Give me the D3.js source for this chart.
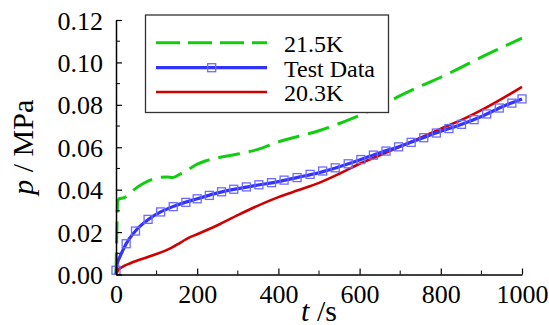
<!DOCTYPE html>
<html>
<head>
<meta charset="utf-8">
<script src="https://cdn.jsdelivr.net/npm/d3@7"></script>
<style>
  html, body { margin: 0; padding: 0; background: #fff; }
  svg text { font-family: "Liberation Serif", "DejaVu Serif", serif; }
</style>
</head>
<body>
<div id="chart"></div>
<script>
// 21.5K curve (green dashed)
const greenT = [0, 2, 4, 8, 20, 35, 55, 80, 105, 125, 140, 160, 180, 200, 220, 250, 300, 350, 400, 450, 500, 550, 600, 650, 700, 750, 800, 850, 900, 950, 1000];
const greenP = [0, 0.020, 0.034, 0.0358, 0.0362, 0.0385, 0.0415, 0.0442, 0.0457, 0.046, 0.0457, 0.0476, 0.0497, 0.052, 0.0535, 0.055, 0.0568, 0.059, 0.0625, 0.0652, 0.0678, 0.0712, 0.075, 0.0795, 0.0843, 0.0888, 0.093, 0.0977, 0.1025, 0.107, 0.1115];

// Test Data fitted line (blue)
const blueT = [0, 3, 10, 25, 50, 80, 110, 140, 170, 200, 250, 300, 350, 400, 450, 500, 550, 600, 650, 700, 750, 800, 850, 900, 950, 1000];
const blueP = [0, 0.005, 0.0085, 0.0145, 0.021, 0.026, 0.0295, 0.032, 0.034, 0.0357, 0.0385, 0.0405, 0.0422, 0.0438, 0.0459, 0.048, 0.0508, 0.054, 0.0574, 0.0605, 0.064, 0.0675, 0.0707, 0.0745, 0.079, 0.0828];

// Test Data markers
const markerT = [0, 25, 48, 79, 110, 141, 172, 200, 230, 260, 290, 321, 352, 383, 414, 446, 478, 509, 540, 572, 603, 634, 665, 696, 727, 758, 789, 820, 851, 882, 913, 944, 975, 1000];
const markerP = [0.002, 0.0145, 0.0205, 0.026, 0.0295, 0.032, 0.034, 0.0357, 0.0373, 0.039, 0.0402, 0.0413, 0.0423, 0.0433, 0.0445, 0.0457, 0.0472, 0.0488, 0.0503, 0.0522, 0.0542, 0.0563, 0.0582, 0.0602, 0.0623, 0.0645, 0.0667, 0.0688, 0.0708, 0.073, 0.0757, 0.0785, 0.0808, 0.0828];

// 20.3K curve (red)
const redT = [0, 5, 15, 35, 85, 135, 160, 180, 200, 250, 300, 350, 400, 450, 500, 550, 600, 650, 700, 750, 800, 850, 900, 950, 1000];
const redP = [0, 0.002, 0.0035, 0.0053, 0.0087, 0.0124, 0.0152, 0.0174, 0.019, 0.0232, 0.028, 0.0325, 0.0365, 0.0398, 0.0432, 0.0475, 0.0522, 0.0562, 0.0603, 0.0645, 0.0688, 0.0728, 0.0775, 0.0828, 0.0885];

const xTicks = [0, 200, 400, 600, 800, 1000];
const yTicks = [0, 0.02, 0.04, 0.06, 0.08, 0.10, 0.12];
const legendNames = ['21.5K', 'Test Data', '20.3K'];

const W = 549, H = 325;
const margin = { left: 116, right: 27, top: 20, bottom: 50.5 };
const serif = '"Liberation Serif", "DejaVu Serif", serif';

const svg = d3.select('#chart').append('svg')
  .attr('width', W)
  .attr('height', H);

const x = d3.scaleLinear().domain([0, 1000]).range([margin.left, W - margin.right]);
const y = d3.scaleLinear().domain([0, 0.12]).range([H - margin.bottom, margin.top]);

const zip = (ts, ps) => ts.map((t, i) => [t, ps[i]]);
const line = d3.line()
  .x(d => x(d[0]))
  .y(d => y(d[1]))
  .curve(d3.curveMonotoneX);

// curves
svg.append('path')
  .attr('d', line(zip(redT, redP)))
  .attr('fill', 'none')
  .attr('stroke', '#d00000')
  .attr('stroke-width', 2.6);

svg.append('path')
  .attr('d', line(zip(greenT, greenP)))
  .attr('fill', 'none')
  .attr('stroke', '#11cc11')
  .attr('stroke-width', 3)
  .attr('stroke-dasharray', '22,9');

svg.append('path')
  .attr('d', line(zip(blueT, blueP)))
  .attr('fill', 'none')
  .attr('stroke', '#3333ff')
  .attr('stroke-width', 3.2);

const ms = 8;
svg.append('g').selectAll('rect')
  .data(zip(markerT, markerP))
  .enter().append('rect')
  .attr('x', d => x(d[0]) - ms / 2)
  .attr('y', d => y(d[1]) - ms / 2)
  .attr('width', ms)
  .attr('height', ms)
  .attr('fill', 'none')
  .attr('stroke', '#6b6bff')
  .attr('stroke-width', 1.3);

// axes (ticks point inward)
const xAxis = svg.append('g')
  .attr('transform', `translate(0,${y(0)})`)
  .call(d3.axisBottom(x).tickValues(xTicks).tickFormat(d3.format('d')).tickSizeInner(-6).tickSizeOuter(0).tickPadding(10));
xAxis.append('g').selectAll('line')
  .data(d3.range(100, 1000, 200))
  .enter().append('line')
  .attr('x1', d => x(d)).attr('x2', d => x(d))
  .attr('y1', 0).attr('y2', -4)
  .attr('stroke', '#000');

const yAxis = svg.append('g')
  .attr('transform', `translate(${x(0)},0)`)
  .call(d3.axisLeft(y).tickValues(yTicks).tickFormat(d3.format('.2f')).tickSizeInner(-6).tickSizeOuter(0).tickPadding(13));
yAxis.append('g').selectAll('line')
  .data([0.01, 0.03, 0.05, 0.07, 0.09, 0.11])
  .enter().append('line')
  .attr('y1', d => y(d)).attr('y2', d => y(d))
  .attr('x1', 0).attr('x2', 4)
  .attr('stroke', '#000');

[xAxis, yAxis].forEach(a => {
  a.attr('font-family', null).attr('font-size', null);
  a.select('.domain').attr('stroke', '#000').attr('stroke-width', 1.5);
  a.selectAll('.tick line').attr('stroke', '#000').attr('stroke-width', 1.2);
  a.selectAll('text')
    .style('font-family', serif)
    .style('font-size', '26px')
    .attr('fill', '#000');
});
yAxis.selectAll('.tick text').attr('dy', '0.35em');
xAxis.selectAll('.tick text').attr('dy', '0.71em');

// axis titles
const xt = svg.append('text')
  .attr('x', (x(0) + x(1000)) / 2)
  .attr('y', 321)
  .attr('text-anchor', 'middle')
  .style('font-family', serif)
  .style('font-size', '30px');
xt.append('tspan').attr('font-style', 'italic').text('t');
xt.append('tspan').text(' /s');

const yt = svg.append('text')
  .attr('transform', `translate(33,${(y(0) + y(0.12)) / 2}) rotate(-90)`)
  .attr('text-anchor', 'middle')
  .style('font-family', serif)
  .style('font-size', '30px');
yt.append('tspan').attr('font-style', 'italic').text('p');
yt.append('tspan').text(' / MPa');

// legend
const lg = svg.append('g');
lg.append('rect')
  .attr('x', 145.5).attr('y', 15)
  .attr('width', 243).attr('height', 97.5)
  .attr('fill', '#fff')
  .attr('stroke', '#333')
  .attr('stroke-width', 1.3);

const rowY = [42.7, 67.7, 92];
const styles = [
  { stroke: '#11cc11', dash: '24,8', w: 3 },
  { stroke: '#3333ff', dash: null, w: 3.2 },
  { stroke: '#d00000', dash: null, w: 2.6 }
];
legendNames.forEach((name, i) => {
  lg.append('line')
    .attr('x1', 156).attr('x2', 267)
    .attr('y1', rowY[i]).attr('y2', rowY[i])
    .attr('stroke', styles[i].stroke)
    .attr('stroke-width', styles[i].w)
    .attr('stroke-dasharray', styles[i].dash);
  lg.append('text')
    .attr('x', 284)
    .attr('y', rowY[i] + 9)
    .style('font-family', serif)
    .style('font-size', '24px')
    .text(name);
});
lg.append('rect')
  .attr('x', 211.7 - ms / 2).attr('y', rowY[1] - ms / 2)
  .attr('width', ms).attr('height', ms)
  .attr('fill', 'none')
  .attr('stroke', '#6b6bff')
  .attr('stroke-width', 1.3);
</script>
</body>
</html>
